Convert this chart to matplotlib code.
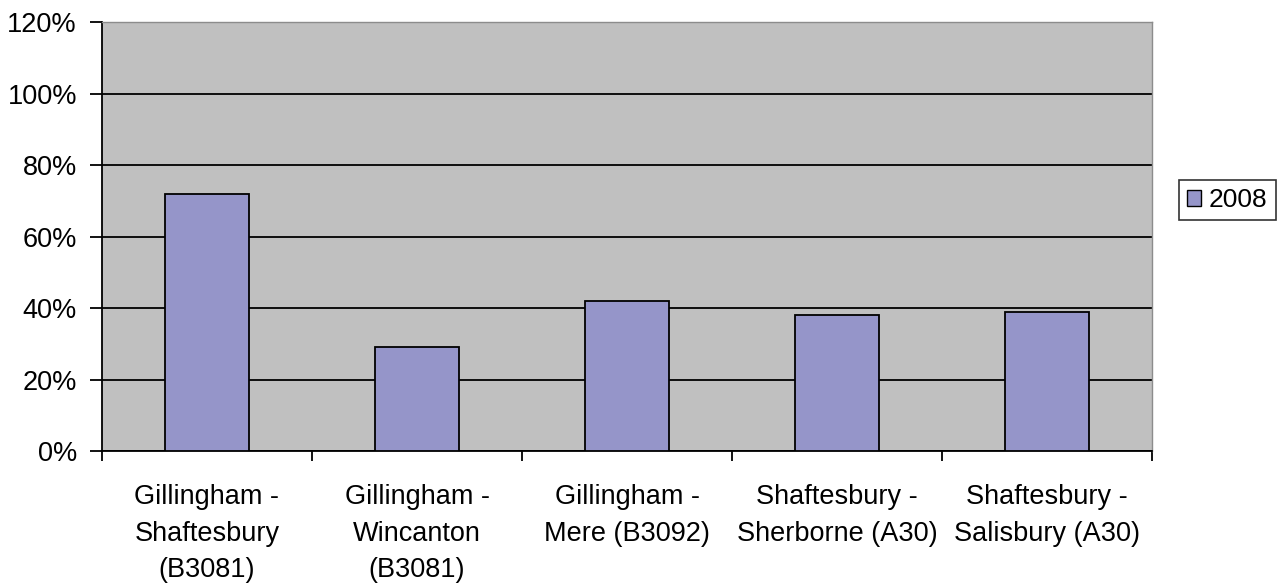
import matplotlib.pyplot as plt
from matplotlib.patches import Patch
from matplotlib.ticker import FixedLocator, PercentFormatter

# Share of traffic per route, 2008
routes = [
    "Gillingham -\nShaftesbury\n(B3081)",
    "Gillingham -\nWincanton\n(B3081)",
    "Gillingham -\nMere (B3092)",
    "Shaftesbury -\nSherborne (A30)",
    "Shaftesbury -\nSalisbury (A30)",
]
share_2008 = [72, 29, 42, 38, 39]
y_ticks = [0, 20, 40, 60, 80, 100, 120]

plt.rcParams["font.family"] = ["Liberation Sans", "DejaVu Sans"]

fig = plt.figure(figsize=(12.83, 5.85), dpi=100)
ax = fig.add_axes([0.0795, 0.229, 0.8184, 0.7333])
ax.set_facecolor("#c0c0c0")

x = list(range(len(routes)))
ax.bar(x, share_2008, width=0.4, color="#9595c9", edgecolor="black",
       linewidth=1.3, zorder=3)

ax.set_xlim(-0.5, len(routes) - 0.5)
ax.set_ylim(0, 120)
ax.set_yticks(y_ticks)
ax.yaxis.set_major_formatter(PercentFormatter(decimals=0))
ax.grid(axis="y", color="black", linewidth=1.3, zorder=1)
ax.set_axisbelow(True)

# category labels centred, tick marks on the category boundaries
ax.set_xticks(x)
ax.set_xticklabels(routes, fontsize=19.5, linespacing=1.52)
ax.tick_params(axis="x", which="major", length=0, pad=24)
ax.xaxis.set_minor_locator(FixedLocator([i - 0.5 for i in range(len(routes) + 1)]))
ax.tick_params(axis="x", which="minor", length=7, width=1.3, color="black")
ax.tick_params(axis="y", length=9, width=1.3, pad=9, labelsize=19.5)

for side in ["left", "bottom"]:
    ax.spines[side].set_color("black")
    ax.spines[side].set_linewidth(1.3)
for side in ["top", "right"]:
    ax.spines[side].set_color("#8c8c8c")
    ax.spines[side].set_linewidth(1.0)

handles = [Patch(facecolor="#9595c9", edgecolor="black", linewidth=1.0, label="2008")]
leg = fig.legend(handles=handles, loc="center", bbox_to_anchor=(0.9565, 0.658),
                 fontsize=19, frameon=True, fancybox=False, handlelength=0.55,
                 handleheight=0.55, handletextpad=0.3, borderpad=0.3)
leg.get_frame().set_edgecolor("black")
leg.get_frame().set_linewidth(1.2)

fig.savefig("out.png", dpi=100)
